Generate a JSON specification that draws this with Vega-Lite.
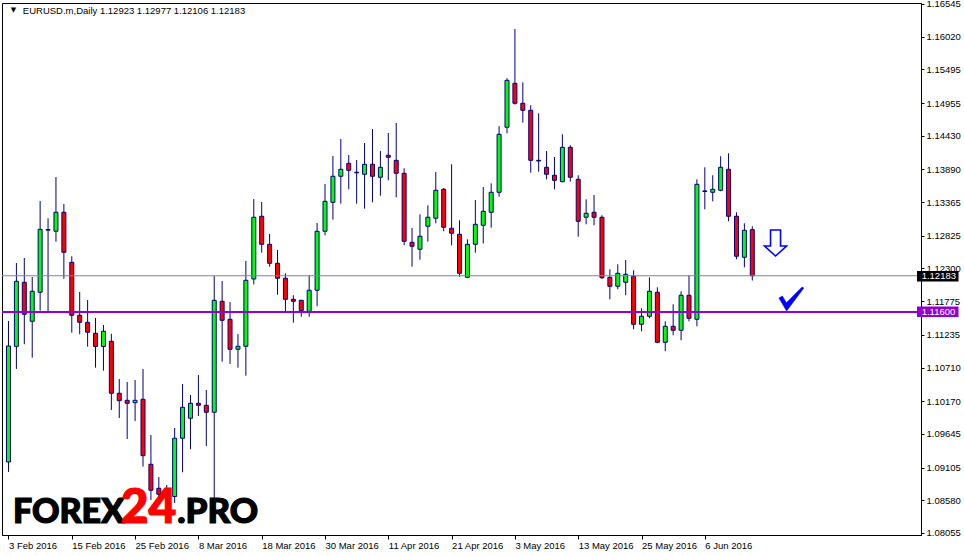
{
  "$schema": "https://vega.github.io/schema/vega-lite/v6.json",
  "width": 919,
  "height": 532,
  "autosize": {"type": "none"},
  "padding": {"left": 2, "top": 3, "right": 43, "bottom": 21},
  "background": "white",
  "config": {"view": {"stroke": "black", "strokeWidth": 1}, "font": "Liberation Sans"},
  "data": {"values": [
    {"d":"2016-02-03","i":0,"o":1.09194,"h":1.11457,"l":1.09034,"c":1.11056},
    {"d":"2016-02-04","i":1,"o":1.11050,"h":1.12388,"l":1.10687,"c":1.12094},
    {"d":"2016-02-05","i":2,"o":1.12078,"h":1.12468,"l":1.11083,"c":1.11565},
    {"d":"2016-02-08","i":3,"o":1.11452,"h":1.12163,"l":1.10868,"c":1.11934},
    {"d":"2016-02-09","i":4,"o":1.11918,"h":1.13383,"l":1.11623,"c":1.12929},
    {"d":"2016-02-10","i":5,"o":1.12925,"h":1.13106,"l":1.11602,"c":1.12915},
    {"d":"2016-02-11","i":6,"o":1.12897,"h":1.13768,"l":1.12730,"c":1.13202},
    {"d":"2016-02-12","i":7,"o":1.13202,"h":1.13335,"l":1.12136,"c":1.12560},
    {"d":"2016-02-15","i":8,"o":1.12399,"h":1.12496,"l":1.11269,"c":1.11549},
    {"d":"2016-02-16","i":9,"o":1.11549,"h":1.11923,"l":1.11244,"c":1.11436},
    {"d":"2016-02-17","i":10,"o":1.11436,"h":1.11794,"l":1.11045,"c":1.11276},
    {"d":"2016-02-18","i":11,"o":1.11260,"h":1.11505,"l":1.10708,"c":1.11048},
    {"d":"2016-02-19","i":12,"o":1.11048,"h":1.11393,"l":1.10660,"c":1.11292},
    {"d":"2016-02-22","i":13,"o":1.11131,"h":1.11253,"l":1.10029,"c":1.10297},
    {"d":"2016-02-23","i":14,"o":1.10297,"h":1.10526,"l":1.09900,"c":1.10178},
    {"d":"2016-02-24","i":15,"o":1.10184,"h":1.10478,"l":1.09563,"c":1.10136},
    {"d":"2016-02-25","i":16,"o":1.10146,"h":1.10510,"l":1.09852,"c":1.10184},
    {"d":"2016-02-26","i":17,"o":1.10200,"h":1.10687,"l":1.09119,"c":1.09295},
    {"d":"2016-02-29","i":18,"o":1.09157,"h":1.09627,"l":1.08584,"c":1.08740},
    {"d":"2016-03-01","i":19,"o":1.08772,"h":1.08953,"l":1.08552,"c":1.08676},
    {"d":"2016-03-02","i":20,"o":1.08676,"h":1.08825,"l":1.08504,"c":1.08640},
    {"d":"2016-03-03","i":21,"o":1.08640,"h":1.09740,"l":1.08536,"c":1.09575},
    {"d":"2016-03-04","i":22,"o":1.09575,"h":1.10446,"l":1.09029,"c":1.10072},
    {"d":"2016-03-07","i":23,"o":1.09896,"h":1.10269,"l":1.09398,"c":1.10136},
    {"d":"2016-03-08","i":24,"o":1.10136,"h":1.10590,"l":1.09932,"c":1.10104},
    {"d":"2016-03-09","i":25,"o":1.10104,"h":1.10350,"l":1.09451,"c":1.09992},
    {"d":"2016-03-10","i":26,"o":1.09992,"h":1.12179,"l":1.08231,"c":1.11789},
    {"d":"2016-03-11","i":27,"o":1.11773,"h":1.12099,"l":1.10804,"c":1.11468},
    {"d":"2016-03-14","i":28,"o":1.11484,"h":1.11762,"l":1.10767,"c":1.11003},
    {"d":"2016-03-15","i":29,"o":1.11003,"h":1.11249,"l":1.10708,"c":1.11051},
    {"d":"2016-03-16","i":30,"o":1.11051,"h":1.12420,"l":1.10579,"c":1.12110},
    {"d":"2016-03-17","i":31,"o":1.12131,"h":1.13415,"l":1.12043,"c":1.13122},
    {"d":"2016-03-18","i":32,"o":1.13138,"h":1.13367,"l":1.12553,"c":1.12688},
    {"d":"2016-03-21","i":33,"o":1.12688,"h":1.12854,"l":1.12329,"c":1.12383},
    {"d":"2016-03-22","i":34,"o":1.12383,"h":1.12597,"l":1.11879,"c":1.12143},
    {"d":"2016-03-23","i":35,"o":1.12143,"h":1.12223,"l":1.11597,"c":1.11805},
    {"d":"2016-03-24","i":36,"o":1.11805,"h":1.11870,"l":1.11430,"c":1.11773},
    {"d":"2016-03-25","i":37,"o":1.11789,"h":1.11795,"l":1.11526,"c":1.11623},
    {"d":"2016-03-28","i":38,"o":1.11613,"h":1.12191,"l":1.11526,"c":1.11950},
    {"d":"2016-03-29","i":39,"o":1.11950,"h":1.13030,"l":1.11693,"c":1.12897},
    {"d":"2016-03-30","i":40,"o":1.12897,"h":1.13656,"l":1.12833,"c":1.13378},
    {"d":"2016-03-31","i":41,"o":1.13362,"h":1.14105,"l":1.13083,"c":1.13780},
    {"d":"2016-04-01","i":42,"o":1.13780,"h":1.14378,"l":1.13340,"c":1.13892},
    {"d":"2016-04-04","i":43,"o":1.13988,"h":1.14121,"l":1.13571,"c":1.13876},
    {"d":"2016-04-05","i":44,"o":1.13845,"h":1.14041,"l":1.13340,"c":1.13835},
    {"d":"2016-04-06","i":45,"o":1.13812,"h":1.14314,"l":1.13260,"c":1.13972},
    {"d":"2016-04-07","i":46,"o":1.13972,"h":1.14539,"l":1.13362,"c":1.13780},
    {"d":"2016-04-08","i":47,"o":1.13764,"h":1.14186,"l":1.13468,"c":1.13924},
    {"d":"2016-04-11","i":48,"o":1.14117,"h":1.14475,"l":1.13715,"c":1.14085},
    {"d":"2016-04-12","i":49,"o":1.14036,"h":1.14635,"l":1.13443,"c":1.13828},
    {"d":"2016-04-13","i":50,"o":1.13828,"h":1.13908,"l":1.12672,"c":1.12736},
    {"d":"2016-04-14","i":51,"o":1.12720,"h":1.12950,"l":1.12329,"c":1.12656},
    {"d":"2016-04-15","i":52,"o":1.12608,"h":1.13170,"l":1.12441,"c":1.12817},
    {"d":"2016-04-18","i":53,"o":1.12977,"h":1.13314,"l":1.12730,"c":1.13122},
    {"d":"2016-04-19","i":54,"o":1.13106,"h":1.13849,"l":1.13025,"c":1.13555},
    {"d":"2016-04-20","i":55,"o":1.13571,"h":1.13592,"l":1.12897,"c":1.12961},
    {"d":"2016-04-21","i":56,"o":1.12945,"h":1.13972,"l":1.12672,"c":1.12865},
    {"d":"2016-04-22","i":57,"o":1.12849,"h":1.13073,"l":1.12168,"c":1.12223},
    {"d":"2016-04-25","i":58,"o":1.12158,"h":1.12768,"l":1.12150,"c":1.12688},
    {"d":"2016-04-26","i":59,"o":1.12688,"h":1.13399,"l":1.12553,"c":1.13009},
    {"d":"2016-04-27","i":60,"o":1.12993,"h":1.13608,"l":1.12701,"c":1.13218},
    {"d":"2016-04-28","i":61,"o":1.13202,"h":1.13667,"l":1.12955,"c":1.13523},
    {"d":"2016-04-29","i":62,"o":1.13523,"h":1.14584,"l":1.13452,"c":1.14454},
    {"d":"2016-05-02","i":63,"o":1.14566,"h":1.15353,"l":1.14470,"c":1.15320},
    {"d":"2016-05-03","i":64,"o":1.15272,"h":1.16144,"l":1.14929,"c":1.14951},
    {"d":"2016-05-04","i":65,"o":1.14951,"h":1.15288,"l":1.14640,"c":1.14839},
    {"d":"2016-05-05","i":66,"o":1.14839,"h":1.14919,"l":1.13837,"c":1.14036},
    {"d":"2016-05-06","i":67,"o":1.14036,"h":1.14791,"l":1.13853,"c":1.14025},
    {"d":"2016-05-09","i":68,"o":1.13924,"h":1.14186,"l":1.13731,"c":1.13812},
    {"d":"2016-05-10","i":69,"o":1.13796,"h":1.14089,"l":1.13571,"c":1.13715},
    {"d":"2016-05-11","i":70,"o":1.13693,"h":1.14454,"l":1.13683,"c":1.14245},
    {"d":"2016-05-12","i":71,"o":1.14245,"h":1.14277,"l":1.13693,"c":1.13764},
    {"d":"2016-05-13","i":72,"o":1.13731,"h":1.13796,"l":1.12810,"c":1.13057},
    {"d":"2016-05-16","i":73,"o":1.13122,"h":1.13410,"l":1.13009,"c":1.13186},
    {"d":"2016-05-17","i":74,"o":1.13202,"h":1.13479,"l":1.12993,"c":1.13122},
    {"d":"2016-05-18","i":75,"o":1.13122,"h":1.13154,"l":1.12131,"c":1.12152},
    {"d":"2016-05-19","i":76,"o":1.12158,"h":1.12287,"l":1.11805,"c":1.12014},
    {"d":"2016-05-20","i":77,"o":1.12014,"h":1.12367,"l":1.11966,"c":1.12223},
    {"d":"2016-05-23","i":78,"o":1.12078,"h":1.12436,"l":1.11870,"c":1.12207},
    {"d":"2016-05-24","i":79,"o":1.12175,"h":1.12271,"l":1.11324,"c":1.11404},
    {"d":"2016-05-25","i":80,"o":1.11404,"h":1.11661,"l":1.11292,"c":1.11533},
    {"d":"2016-05-26","i":81,"o":1.11533,"h":1.12158,"l":1.11501,"c":1.11934},
    {"d":"2016-05-27","i":82,"o":1.11918,"h":1.11998,"l":1.11099,"c":1.11115},
    {"d":"2016-05-30","i":83,"o":1.11115,"h":1.11452,"l":1.10971,"c":1.11372},
    {"d":"2016-05-31","i":84,"o":1.11372,"h":1.11725,"l":1.11228,"c":1.11308},
    {"d":"2016-06-01","i":85,"o":1.11308,"h":1.11934,"l":1.11147,"c":1.11870},
    {"d":"2016-06-02","i":86,"o":1.11870,"h":1.12191,"l":1.11452,"c":1.11501},
    {"d":"2016-06-03","i":87,"o":1.11484,"h":1.13731,"l":1.11372,"c":1.13651},
    {"d":"2016-06-06","i":88,"o":1.13545,"h":1.13924,"l":1.13250,"c":1.13535},
    {"d":"2016-06-07","i":89,"o":1.13523,"h":1.13796,"l":1.13378,"c":1.13571},
    {"d":"2016-06-08","i":90,"o":1.13555,"h":1.14101,"l":1.13539,"c":1.13924},
    {"d":"2016-06-09","i":91,"o":1.13892,"h":1.14149,"l":1.13057,"c":1.13138},
    {"d":"2016-06-10","i":92,"o":1.13138,"h":1.13202,"l":1.12447,"c":1.12496},
    {"d":"2016-06-13","i":93,"o":1.12480,"h":1.13025,"l":1.12319,"c":1.12913},
    {"d":"2016-06-14","i":94,"o":1.12923,"h":1.12977,"l":1.12106,"c":1.12183}
  ]},
  "layer": [
    {
      "mark": {"type": "rule", "color": "#000080", "strokeWidth": 1},
      "encoding": {
        "x": {"field": "i", "type": "quantitative",
              "scale": {"domain": [-0.1875, 114.6875], "nice": false, "zero": false},
              "axis": {"title": null, "grid": false, "orient": "bottom", "tickCount": 30,
                       "values": [0, 8, 16, 24, 32, 40, 48, 56, 64, 72, 80, 88],
                       "labelExpr": "['3 Feb 2016','15 Feb 2016','25 Feb 2016','8 Mar 2016','18 Mar 2016','30 Mar 2016','11 Apr 2016','21 Apr 2016','3 May 2016','13 May 2016','25 May 2016','6 Jun 2016'][round(datum.value/8)]",
                       "labelAlign": "left", "labelBaseline": "top", "labelPadding": 1,
                       "labelFont": "Liberation Sans", "labelFontSize": 9.5, "labelColor": "black",
                       "labelOverlap": false, "labelFlush": false, "labelBound": false,
                       "tickSize": 4, "tickColor": "black", "domainColor": "black"}},
        "y": {"field": "l", "type": "quantitative",
              "scale": {"domain": [1.08022, 1.16561], "nice": false, "zero": false},
              "axis": {"title": null, "grid": false, "orient": "right", "tickCount": 40,
                       "values": [1.16545, 1.1602, 1.15495, 1.14955, 1.1443, 1.1389, 1.13365, 1.12825, 1.123, 1.11775, 1.11235, 1.1071, 1.1017, 1.09645, 1.09105, 1.0858, 1.08055],
                       "format": ".5f", "labelFont": "Liberation Sans", "labelFontSize": 9.5,
                       "labelColor": "black", "labelPadding": 2, "labelOverlap": false,
                       "labelFlush": false, "labelBound": false,
                       "tickSize": 3, "tickColor": "black", "domainColor": "black"}},
        "y2": {"field": "h"}
      }
    },
    {
      "mark": {"type": "bar", "width": 4, "stroke": "#000080", "strokeWidth": 1},
      "encoding": {
        "x": {"field": "i", "type": "quantitative"},
        "y": {"field": "o", "type": "quantitative"},
        "y2": {"field": "c"},
        "fill": {"condition": {"test": "datum.c >= datum.o", "value": "#00ff00"}, "value": "#ff0000"}
      }
    },
    {
      "data": {"values": [{}]},
      "mark": {"type": "rule", "color": "#778899", "strokeWidth": 1},
      "encoding": {"y": {"datum": 1.12183}}
    },
    {
      "data": {"values": [{}]},
      "mark": {"type": "rule", "color": "#9400d3", "strokeWidth": 2},
      "encoding": {"y": {"datum": 1.116}}
    },
    {
      "data": {"values": [{}]},
      "mark": {"type": "rect", "color": "black"},
      "encoding": {"x": {"datum": 114.8125}, "x2": {"datum": 120.0625}, "y": {"datum": 1.1226}, "y2": {"datum": 1.12091}}
    },
    {
      "data": {"values": [{}]},
      "mark": {"type": "rect", "color": "#9400d3"},
      "encoding": {"x": {"datum": 114.8125}, "x2": {"datum": 120.0625}, "y": {"datum": 1.1169}, "y2": {"datum": 1.11521}}
    },
    {
      "data": {"values": [{}]},
      "mark": {"type": "text", "text": "1.12183", "color": "white", "align": "left", "baseline": "middle", "font": "Liberation Sans", "fontSize": 9.5},
      "encoding": {"x": {"datum": 115.4}, "y": {"datum": 1.12183}}
    },
    {
      "data": {"values": [{}]},
      "mark": {"type": "text", "text": "1.11600", "color": "white", "align": "left", "baseline": "middle", "font": "Liberation Sans", "fontSize": 9.5},
      "encoding": {"x": {"datum": 115.4}, "y": {"datum": 1.11605}}
    },
    {
      "data": {"values": [{}]},
      "mark": {"type": "point", "filled": true, "fill": "white", "stroke": "#0000ff", "strokeWidth": 1.6, "opacity": 1, "size": 676,
               "shape": "M -0.385 -1 L 0.385 -1 L 0.385 0.23 L 0.846 0.23 L 0 1 L -0.846 0.23 L -0.385 0.23 Z"},
      "encoding": {"x": {"datum": 96.9375}, "y": {"datum": 1.12709}}
    },
    {
      "data": {"values": [{}]},
      "mark": {"type": "point", "filled": true, "fill": "#0000ff", "stroke": "#0000ff", "strokeWidth": 0.5, "opacity": 1, "size": 625,
               "shape": "M -1 -0.08 L -0.72 -0.24 L -0.4 0.3 L 0.86 -0.96 L 1 -0.88 L -0.38 0.96 Z"},
      "encoding": {"x": {"datum": 98.9375}, "y": {"datum": 1.1181}}
    },
    {
      "data": {"values": [{}]},
      "mark": {"type": "text", "text": "FOREX", "color": "black", "stroke": "black", "strokeWidth": 1.2, "align": "left", "baseline": "alphabetic", "font": "Lato", "fontWeight": 900, "fontSize": 34},
      "encoding": {"x": {"datum": 0.5625}, "y": {"datum": 1.08215}}
    },
    {
      "data": {"values": [{}]},
      "mark": {"type": "text", "text": "24", "color": "#ff0000", "stroke": "#ff0000", "strokeWidth": 1.2, "align": "left", "baseline": "alphabetic", "font": "Lato", "fontWeight": 900, "fontSize": 48},
      "encoding": {"x": {"datum": 14.1875}, "y": {"datum": 1.08215}}
    },
    {
      "data": {"values": [{}]},
      "mark": {"type": "text", "text": ".PRO", "color": "black", "stroke": "black", "strokeWidth": 1.2, "align": "left", "baseline": "alphabetic", "font": "Lato", "fontWeight": 900, "fontSize": 35},
      "encoding": {"x": {"datum": 21.3125}, "y": {"datum": 1.08215}}
    },
    {
      "data": {"values": [{}]},
      "mark": {"type": "text", "text": "▼", "color": "black", "align": "center", "baseline": "middle", "font": "DejaVu Sans", "fontSize": 7},
      "encoding": {"x": {"datum": 0.625}, "y": {"datum": 1.16449}}
    },
    {
      "data": {"values": [{}]},
      "mark": {"type": "text", "text": "EURUSD.m,Daily  1.12923 1.12977 1.12106 1.12183", "color": "black", "align": "left", "baseline": "alphabetic", "font": "Liberation Sans", "fontSize": 9.5},
      "encoding": {"x": {"datum": 1.8125}, "y": {"datum": 1.16385}}
    }
  ]
}
